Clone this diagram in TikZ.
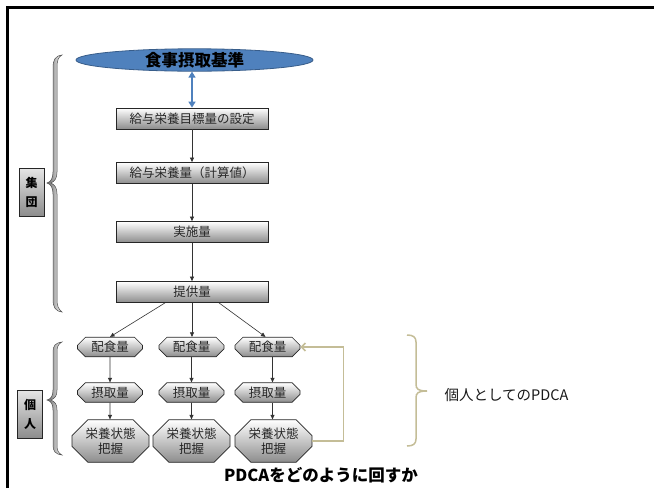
\documentclass[tikz,border=0pt]{standalone}
\usepackage{fontspec}
\setmainfont{Noto Sans CJK JP}
\usetikzlibrary{shapes.geometric,shapes.misc,arrows.meta,calc}
\definecolor{blueA}{HTML}{4F81BD}
\definecolor{blueB}{HTML}{385D8A}
\definecolor{tanC}{HTML}{C4BD97}
\definecolor{txt}{HTML}{262626}
\begin{document}
\begin{tikzpicture}[x=1pt,y=-1pt,
  box/.style={draw=black!85, line width=0.8pt, top color=white, bottom color=black!45,
    minimum width=152pt, minimum height=21pt, inner sep=0pt,
    font=\fontsize{12.5}{14}\selectfont, text=txt},
  cham/.style={chamfered rectangle, draw=black!85, line width=0.7pt,
    top color=white, bottom color=black!45, inner sep=0pt,
    font=\fontsize{12.5}{15}\selectfont, text=txt},
  small/.style={cham, chamfered rectangle xsep=4pt, chamfered rectangle ysep=4pt, minimum width=65pt, minimum height=18pt},
  big/.style={cham, chamfered rectangle xsep=8pt, chamfered rectangle ysep=8pt, minimum width=77pt, minimum height=38pt, align=center},
  lab/.style={draw=black!85, line width=0.7pt, top color=black!10, bottom color=black!45,
    minimum width=25pt, minimum height=48pt, inner sep=0pt, align=center,
    font=\fontsize{12}{19}\selectfont\bfseries},
  arr/.style={-{Triangle[width=4pt,length=4.5pt]}, line width=0.6pt, black!80},
  bracefill/.style={draw=black!70, line width=0.5pt, left color=black!60, right color=white},
]
\useasboundingbox (0,0) rectangle (654,488);
\fill[white] (0,0) rectangle (654,488);
% frame
\draw[line width=2.4pt, line cap=butt] (7.5,488) -- (7.5,7.5) -- (654,7.5);

% top ellipse
\node[ellipse, draw=blueB, line width=0.8pt, fill=blueA, minimum width=237pt, minimum height=21pt,
  inner sep=0pt, font=\fontsize{16.5}{18}\selectfont\bfseries] (std) at (194.5,60) {食事摂取基準};

% boxes
\node[box] (b1) at (192,118.5) {給与栄養目標量の設定};
\node[box] (b2) at (192,173) {給与栄養量（計算値）};
\node[box] (b3) at (192,232) {実施量};
\node[box] (b4) at (192,292) {提供量};

\draw[blueA, line width=2pt, {Triangle[width=7pt,length=6pt]}-{Triangle[width=7pt,length=6pt]}]
  (std.south -| b1.north) -- (b1.north);
\draw[arr] (b1) -- (b2);
\draw[arr] (b2) -- (b3);
\draw[arr] (b3) -- (b4);

% individual
\node[small] (h1) at (110,347) {配食量};
\node[small] (h2) at (191.5,347) {配食量};
\node[small] (h3) at (267.5,347) {配食量};
\node[small] (s1) at (110,392.5) {摂取量};
\node[small] (s2) at (191.5,392.5) {摂取量};
\node[small] (s3) at (267.5,392.5) {摂取量};
\node[big] (e1) at (110.5,441) {栄養状態\\把握};
\node[big] (e2) at (191.5,441) {栄養状態\\把握};
\node[big] (e3) at (273.5,441) {栄養状態\\把握};

\draw[arr] ([xshift=-27pt]b4.south) -- (h1.north);
\draw[arr] (b4.south) -- (b4.south |- h2.north);
\draw[arr] ([xshift=27pt]b4.south) -- ([xshift=-2pt]h3.north);
\draw[arr] (h1) -- (s1);
\draw[arr] (h2) -- (s2);
\draw[arr] ([xshift=5pt]h3.south) -- ([xshift=5pt]s3.north);
\draw[arr] (s1) -- (e1.north -| s1);
\draw[arr] (s2) -- (e2.north -| s2);
\draw[arr] ([xshift=5pt]s3.south) -- ([xshift=5pt]s3.south |- e3.north);

% tan loop
\draw[tanC, line width=1.6pt, -{Straight Barb[length=4pt,width=8pt]}]
  (e3.east) -- ++(31,0) |- (h3.east);

% left braces
\path[bracefill] (62,55) .. controls (55,56) and (53,60) .. (53,68) -- (53,172)
  .. controls (53,178) and (51,182) .. (47,183) .. controls (51,184) and (53,188) .. (53,194)
  -- (53,299) .. controls (53,307) and (55,311) .. (62,312)
  .. controls (58,309) and (57,305) .. (57,299) -- (57,194)
  .. controls (57,188) and (55,185) .. (51,183) .. controls (55,181) and (57,178) .. (57,172)
  -- (57,68) .. controls (57,61) and (58,57) .. (62,55) -- cycle;
\path[bracefill] (62,342) .. controls (55,343) and (53,346) .. (53,352) -- (53,390)
  .. controls (53,396) and (51,399) .. (47,400) .. controls (51,401) and (53,404) .. (53,410)
  -- (53,445) .. controls (53,451) and (55,454) .. (62,455)
  .. controls (58,453) and (57,450) .. (57,445) -- (57,410)
  .. controls (57,404) and (55,402) .. (51,400) .. controls (55,398) and (57,396) .. (57,390)
  -- (57,352) .. controls (57,347) and (58,344) .. (62,342) -- cycle;
\node[lab] (g1) at (31.5,192) {集\\団};
\node[lab] (g2) at (30,414) {個\\人};

% right tan brace
\draw[tanC, line width=1.5pt]
  (407,335) .. controls (413,335) and (416,337) .. (416,342) -- (416,384)
  .. controls (416,389) and (418,391) .. (427,391)
  .. controls (418,391) and (416,393) .. (416,398) -- (416,439)
  .. controls (416,444) and (413,446) .. (407,446);
\node[anchor=west, font=\fontsize{14.5}{16}\selectfont, text=black!90] (pdca) at (441,395) {個人としてのPDCA};

% title
\node[font=\fontsize{16.5}{18}\selectfont\bfseries] (title) at (321,475) {PDCAをどのように回すか};
\end{tikzpicture}
\end{document}
